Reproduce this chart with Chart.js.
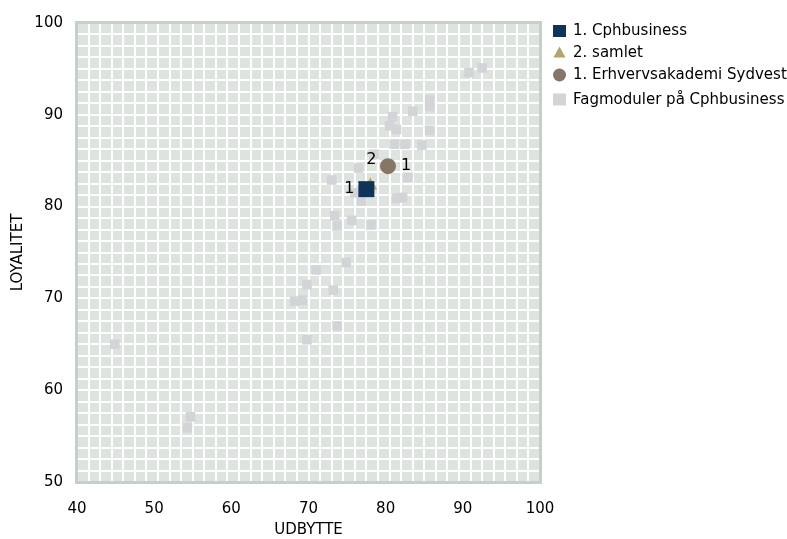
<!DOCTYPE html>
<html>
<head>
<meta charset="utf-8">
<style>
  html, body { margin: 0; padding: 0; background: #ffffff; }
  canvas { display: block; }
</style>
<script src="https://cdn.jsdelivr.net/npm/chart.js@4/dist/chart.umd.min.js"></script>
</head>
<body>
<canvas id="chart" width="787" height="539"></canvas>
<script>
// Axis ranges and tick steps
const xTicks = [40, 50, 60, 70, 80, 90, 100];
const yTicks = [50, 60, 70, 80, 90, 100];

// Series: [UDBYTTE, LOYALITET]
const seriesNames = ['1. Cphbusiness', '2. samlet', '1. Erhvervsakademi Sydvest', 'Fagmoduler på Cphbusiness'];
const cphbusiness = [[77.5, 81.9]];
const samlet = [[78.0, 82.3]];
const sydvest = [[80.3, 84.4]];
const fagmoduler = [
  [92.5, 95.1], [90.8, 94.6], [85.7, 91.6], [85.7, 90.9], [83.5, 90.4],
  [80.9, 89.8], [80.5, 88.8], [81.4, 88.4], [85.7, 88.3], [81.1, 86.8],
  [82.5, 86.8], [84.7, 86.7], [78.5, 85.7], [76.5, 84.2], [73.0, 82.9],
  [82.9, 83.2], [76.0, 81.5], [76.9, 80.6], [81.4, 80.9], [82.2, 81.0],
  [73.4, 79.0], [73.7, 77.9], [75.6, 78.5], [78.1, 78.0], [74.9, 73.9],
  [71.0, 73.1], [69.8, 71.5], [73.2, 70.9], [68.2, 69.7], [69.2, 69.8],
  [73.7, 67.0], [69.8, 65.5], [44.9, 65.0], [54.7, 57.1], [54.3, 55.9]
];
// Rank labels next to the three highlighted points
const rankLabels = ['1', '2', '1'];

const FONT = 'DejaVu Sans';
const toPts = arr => arr.map(([x, y]) => ({ x, y }));

// Plot-area fill: light green-grey with a fine white grid pattern and a soft border
const plotBackground = {
  id: 'plotBackground',
  beforeDatasetsDraw(chart) {
    const { ctx, chartArea: a } = chart;
    ctx.save();
    ctx.fillStyle = '#dde3df';
    ctx.fillRect(a.left, a.top, a.right - a.left, a.bottom - a.top);
    ctx.fillStyle = '#ffffff';
    const n = 40;
    const dx = (a.right - a.left) / n, dy = (a.bottom - a.top) / n;
    for (let i = 1; i < n; i++) {
      ctx.fillRect(Math.round(a.left + i * dx) - 1, a.top, 2, a.bottom - a.top);
      ctx.fillRect(a.left, Math.round(a.top + i * dy) - 1, a.right - a.left, 2);
    }
    ctx.strokeStyle = '#c5d1c8';
    ctx.lineWidth = 3;
    ctx.strokeRect(a.left - 0.5, a.top - 0.5, a.right - a.left + 1, a.bottom - a.top + 1);
    ctx.restore();
  }
};

// Rank numbers placed left / above / right of the highlighted markers
const rankLabelPlugin = {
  id: 'rankLabels',
  afterDatasetsDraw(chart) {
    const { ctx } = chart;
    const offsets = [[-17, 0], [1, -26], [18, 0]];
    ctx.save();
    ctx.font = '16px "' + FONT + '"';
    ctx.fillStyle = '#000000';
    ctx.textAlign = 'center';
    ctx.textBaseline = 'middle';
    rankLabels.forEach((txt, i) => {
      const el = chart.getDatasetMeta(i).data[0];
      if (!el) return;
      ctx.fillText(txt, el.x + offsets[i][0], el.y + offsets[i][1]);
    });
    ctx.restore();
  }
};

// Legend drawn to the right of the plot area
const sideLegend = {
  id: 'sideLegend',
  afterDraw(chart) {
    const { ctx } = chart;
    const x0 = 553, cx = 559.5;
    const rows = [31, 52.5, 75, 99.5];
    ctx.save();
    ctx.font = '15px "' + FONT + '"';
    ctx.textBaseline = 'middle';
    ctx.textAlign = 'left';
    chart.data.datasets.forEach((ds, i) => {
      const y = rows[i];
      ctx.fillStyle = ds.backgroundColor;
      if (ds.pointStyle === 'rect') {
        ctx.fillRect(x0, y - 6, 13, 12);
      } else if (ds.pointStyle === 'triangle') {
        ctx.beginPath();
        ctx.moveTo(cx, y - 6);
        ctx.lineTo(cx + 6, y + 5);
        ctx.lineTo(cx - 6, y + 5);
        ctx.closePath();
        ctx.fill();
      } else {
        ctx.beginPath();
        ctx.arc(cx, y, 6.5, 0, Math.PI * 2);
        ctx.fill();
      }
      ctx.fillStyle = '#000000';
      ctx.fillText(ds.label, 573, y + 0.5);
    });
    ctx.restore();
  }
};

new Chart(document.getElementById('chart'), {
  type: 'scatter',
  data: {
    datasets: [
      { label: seriesNames[0], data: toPts(cphbusiness), pointStyle: 'rect', pointRadius: 11.3,
        backgroundColor: '#10335a', borderWidth: 0 },
      { label: seriesNames[1], data: toPts(samlet), pointStyle: 'triangle', pointRadius: 8,
        backgroundColor: '#b3a571', borderWidth: 0 },
      { label: seriesNames[2], data: toPts(sydvest), pointStyle: 'circle', pointRadius: 8,
        backgroundColor: '#857666', borderWidth: 0 },
      { label: seriesNames[3], data: toPts(fagmoduler), pointStyle: 'rect', pointRadius: 6.8,
        backgroundColor: '#d3d4d8', borderWidth: 0 }
    ]
  },
  options: {
    responsive: false,
    maintainAspectRatio: false,
    animation: false,
    devicePixelRatio: 1,
    layout: { padding: { top: 19, right: 247, left: 0, bottom: 0 } },
    plugins: { legend: { display: false }, tooltip: { enabled: false } },
    scales: {
      x: {
        type: 'linear',
        min: xTicks[0], max: xTicks[xTicks.length - 1],
        ticks: { stepSize: xTicks[1] - xTicks[0], padding: 18, color: '#000000',
                 font: { family: FONT, size: 15 } },
        grid: { display: false, drawTicks: false },
        border: { display: false },
        title: { display: true, text: 'UDBYTTE', color: '#000000',
                 font: { family: FONT, size: 15 }, padding: { top: 0, bottom: 0 } },
        afterFit(scale) { scale.height = 57; }
      },
      y: {
        type: 'linear',
        min: yTicks[0], max: yTicks[yTicks.length - 1],
        ticks: { stepSize: yTicks[1] - yTicks[0], padding: 14, color: '#000000',
                 font: { family: FONT, size: 15 } },
        grid: { display: false, drawTicks: false },
        border: { display: false },
        title: { display: true, text: 'LOYALITET', color: '#000000',
                 font: { family: FONT, size: 15 }, padding: { top: 9, bottom: 0 } },
        afterFit(scale) { scale.width = 77; }
      }
    }
  },
  plugins: [plotBackground, rankLabelPlugin, sideLegend]
});
</script>
</body>
</html>
